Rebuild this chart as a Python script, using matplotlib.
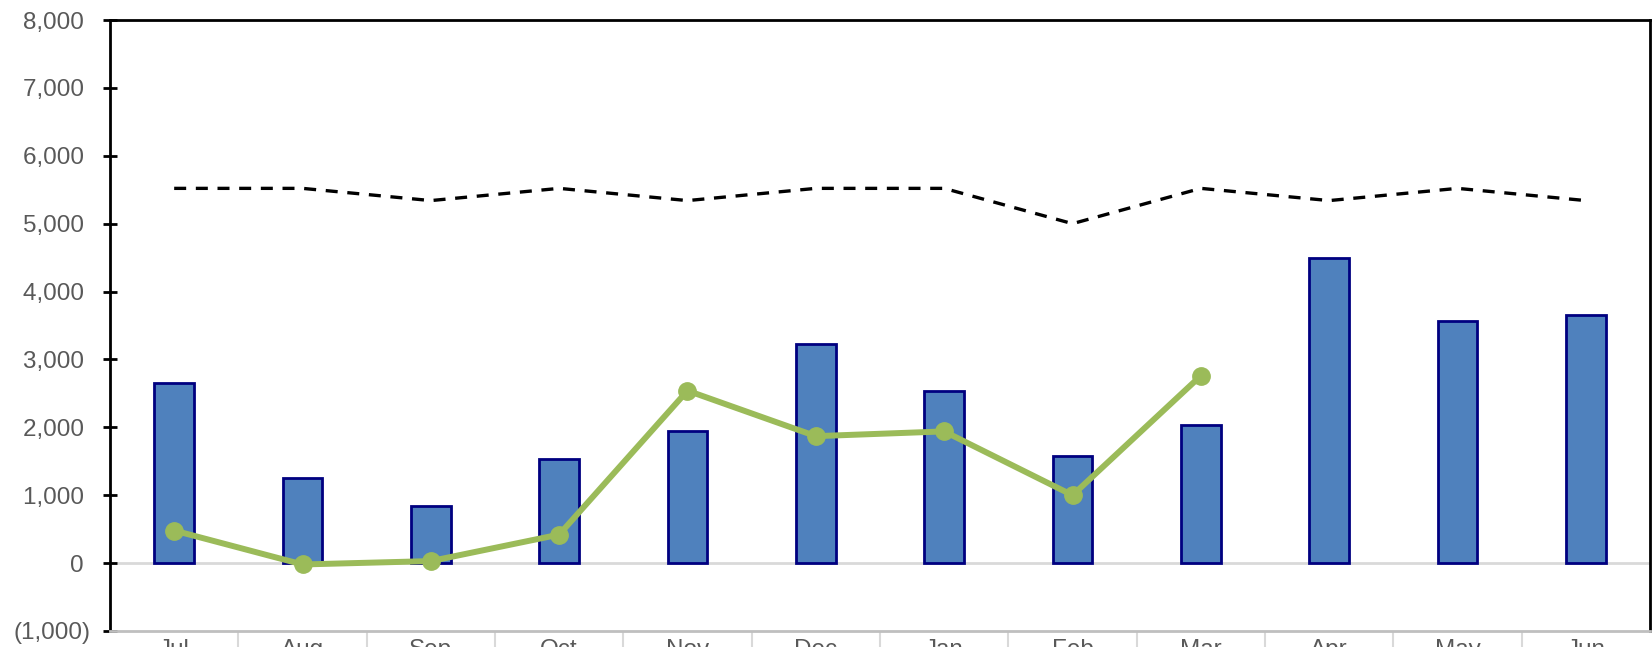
import numpy as np
import matplotlib.pyplot as plt
from matplotlib.ticker import FuncFormatter, FixedLocator

plt.rcParams['font.family'] = ['Liberation Sans', 'DejaVu Sans']

months = ["Jul", "Aug", "Sep", "Oct", "Nov", "Dec", "Jan", "Feb", "Mar", "Apr", "May", "Jun"]
bars = [2650, 1250, 840, 1540, 1950, 3230, 2530, 1580, 2030, 4500, 3570, 3650]
actual = [480, -20, 30, 420, 2540, 1870, 1940, 1000, 2760]
limit = [5520, 5520, 5340, 5520, 5340, 5520, 5520, 5000, 5520, 5340, 5520, 5340]

x = np.arange(len(months))

fig = plt.figure(figsize=(16.52, 6.47), dpi=100)
ax = fig.add_axes([110 / 1652, 1 - 631 / 647, 1540 / 1652, 611 / 647])

ax.axhline(0, color="#D9D9D9", lw=2, zorder=1)
ax.bar(x, bars, width=0.31, color="#4F81BD", edgecolor="#000080", linewidth=2, zorder=2)
ax.plot(x[:len(actual)], actual, color="#9BBB59", lw=4.3, marker="o", markersize=12.5,
        solid_joinstyle="round", zorder=4)
ax.plot(x, limit, color="black", lw=2.4, linestyle=(0, (3.6, 2.9)), zorder=3)

ax.set_xlim(-0.5, len(months) - 0.5)
ax.set_ylim(-1000, 8000)
ax.set_yticks(np.arange(-1000, 8001, 1000))
# accounting style: positives keep a trailing space where the ")" would be
ax.yaxis.set_major_formatter(FuncFormatter(lambda v, p: f"({abs(v):,.0f})" if v < 0 else f"{v:,.0f} "))
ax.tick_params(axis="y", direction="inout", length=10, width=2, labelsize=17.5,
               labelcolor="#595959", pad=9)

ax.set_xticks(x)
ax.set_xticklabels(months)
ax.xaxis.set_minor_locator(FixedLocator(np.arange(0.5, len(months) - 1, 1)))
ax.tick_params(axis="x", which="major", length=0, labelsize=17.5, labelcolor="#595959", pad=6)
ax.tick_params(axis="x", which="minor", direction="out", length=30, width=1.5, color="#D9D9D9")

for s in ["left", "top", "right"]:
    ax.spines[s].set_linewidth(2)
    ax.spines[s].set_color("black")
ax.spines["bottom"].set_color("#BFBFBF")
ax.spines["bottom"].set_linewidth(2)

fig.savefig("out.png", dpi=100)
